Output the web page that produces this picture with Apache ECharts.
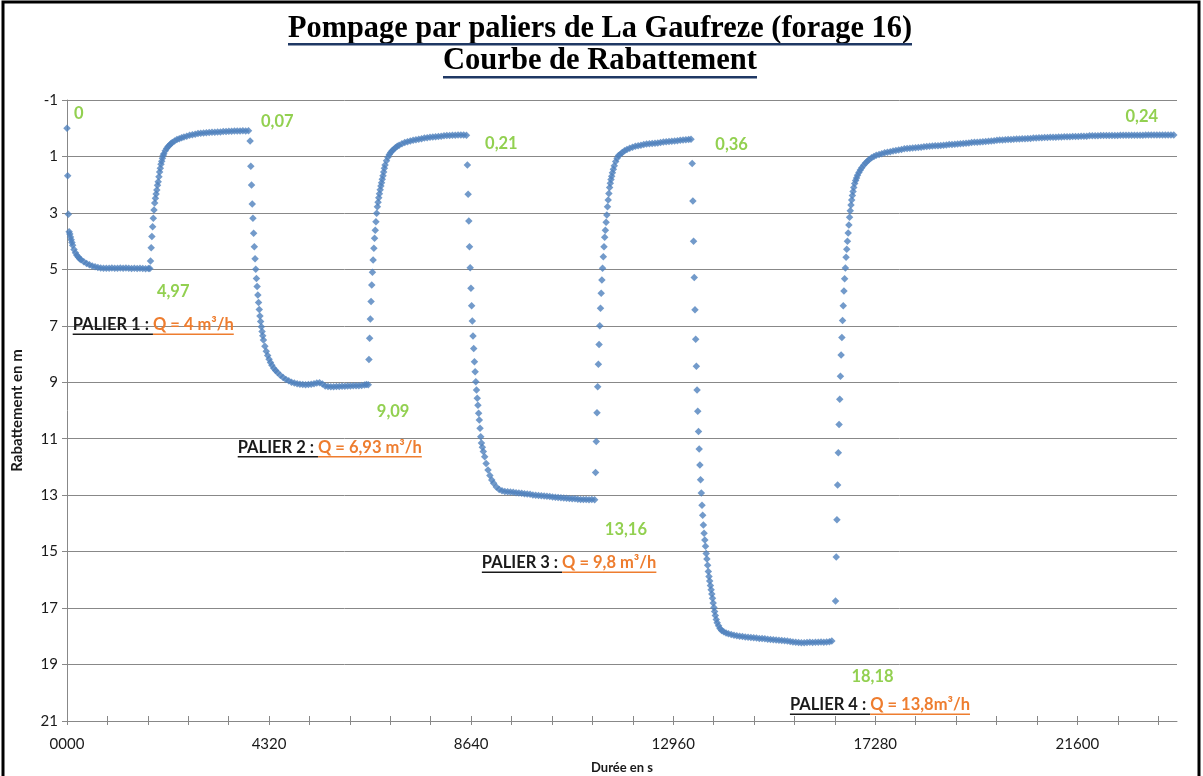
<!DOCTYPE html>
<html><head><meta charset="utf-8">
<script src="https://cdn.jsdelivr.net/npm/echarts@6/dist/echarts.min.js"></script>
<style>html,body{margin:0;padding:0;background:#fff}#c{width:1203px;height:776px}</style>
</head><body><div id="c"></div><script>
// ---------- data (time in s, drawdown "rabattement" in m) ----------
const p1Time = [0,15,30,45,60,75,90,105,120,150,180,210,240,270,300,360,420,480,540,600,660,720,780,840,900,960,1020,1080,1140,1200,1260,1320,1380,1440,1500,1560,1620,1680,1740,1770];
const p1Draw = [0,1.68,3.05,3.67,3.75,3.85,3.95,4.05,4.15,4.30,4.41,4.50,4.56,4.62,4.66,4.73,4.79,4.84,4.88,4.91,4.93,4.95,4.96,4.96,4.96,4.95,4.96,4.96,4.95,4.96,4.95,4.96,4.97,4.96,4.97,4.96,4.97,4.98,4.97,4.97];

const r1Time = [1785,1800,1815,1830,1845,1860,1875,1890,1905,1920,1935,1950,1965,1980,1995,2010,2025,2040,2055,2070,2100,2130,2160,2190,2220,2250,2300,2350,2400,2450,2500,2560,2620,2680,2740,2800,2860,2920,2980,3040,3100,3160,3220,3280,3340,3400,3460,3520,3580,3640,3700,3760,3820,3880];
const r1Draw = [4.70,4.23,3.84,3.49,3.19,2.90,2.65,2.48,2.33,2.19,2.02,1.90,1.72,1.55,1.42,1.28,1.17,1.06,0.97,0.90,0.80,0.72,0.65,0.60,0.55,0.51,0.45,0.40,0.37,0.34,0.31,0.28,0.25,0.23,0.21,0.19,0.18,0.17,0.16,0.15,0.14,0.14,0.13,0.13,0.12,0.12,0.11,0.11,0.10,0.10,0.10,0.09,0.10,0.09];

const p2Time = [3915,3930,3945,3960,3975,3990,4005,4020,4035,4050,4065,4080,4095,4110,4125,4140,4155,4170,4185,4200,4230,4260,4290,4320,4350,4380,4420,4460,4500,4560,4620,4680,4740,4800,4860,4920,4980,5040,5100,5160,5220,5280,5340,5400,5460,5520,5580,5640,5700,5760,5820,5880,5940,6000,6060,6120,6180,6240,6300,6360,6400,6440];
const p2Draw = [0.45,1.35,2.01,2.68,3.19,3.72,4.20,4.62,5.00,5.32,5.61,5.91,6.17,6.42,6.65,6.85,7.03,7.20,7.35,7.50,7.72,7.90,8.05,8.18,8.30,8.40,8.50,8.58,8.65,8.75,8.83,8.90,8.95,9.00,9.03,9.05,9.07,9.08,9.09,9.08,9.07,9.05,9.03,9.02,9.06,9.13,9.15,9.16,9.16,9.15,9.15,9.14,9.14,9.13,9.13,9.12,9.12,9.12,9.11,9.10,9.08,9.09];

const r2Time = [6455,6470,6485,6500,6515,6530,6545,6560,6575,6590,6605,6620,6635,6650,6665,6680,6695,6710,6725,6740,6755,6770,6785,6800,6830,6860,6890,6920,6950,6980,7020,7060,7100,7160,7220,7280,7340,7400,7460,7520,7580,7640,7700,7760,7820,7880,7940,8000,8060,8120,8180,8240,8300,8360,8420,8480,8540];
const r2Draw = [8.19,7.44,6.76,6.14,5.55,5.10,4.67,4.25,3.90,3.61,3.31,3.01,2.78,2.62,2.46,2.32,2.18,2.05,1.93,1.81,1.68,1.55,1.42,1.30,1.15,1.03,0.93,0.86,0.80,0.75,0.69,0.64,0.60,0.55,0.51,0.48,0.45,0.43,0.41,0.39,0.37,0.35,0.34,0.32,0.31,0.30,0.29,0.28,0.27,0.26,0.26,0.25,0.25,0.24,0.24,0.24,0.25];

const p3Time = [8560,8575,8590,8605,8620,8635,8650,8665,8680,8695,8710,8725,8740,8755,8770,8785,8800,8815,8830,8845,8860,8880,8900,8930,8960,9000,9040,9080,9120,9180,9240,9300,9360,9420,9480,9540,9600,9660,9720,9780,9840,9900,9960,10020,10080,10140,10200,10260,10320,10380,10440,10500,10560,10620,10680,10740,10800,10860,10920,10980,11040,11100,11160,11220,11280];
const p3Draw = [1.30,2.34,3.29,4.20,4.94,5.67,6.29,6.83,7.36,7.80,8.27,8.63,8.98,9.27,9.57,9.81,10.10,10.34,10.63,10.93,11.15,11.30,11.45,11.64,11.88,12.11,12.30,12.46,12.58,12.71,12.80,12.84,12.87,12.88,12.89,12.90,12.91,12.92,12.93,12.95,12.96,12.97,12.99,13.00,13.01,13.02,13.03,13.04,13.05,13.06,13.07,13.08,13.09,13.10,13.11,13.12,13.13,13.13,13.14,13.15,13.15,13.15,13.16,13.15,13.16];

const r3Time = [11300,11315,11330,11345,11360,11375,11390,11405,11420,11435,11450,11465,11480,11495,11510,11525,11540,11555,11570,11585,11600,11615,11630,11645,11660,11680,11700,11730,11760,11790,11830,11870,11920,11970,12030,12090,12150,12210,12270,12330,12390,12450,12510,12570,12630,12690,12750,12810,12870,12930,12990,13050,13110,13170,13230,13290,13340];
const r3Draw = [12.20,11.10,10.08,9.16,8.36,7.66,7.00,6.38,5.85,5.38,4.96,4.55,4.20,3.86,3.61,3.33,3.07,2.78,2.54,2.31,2.10,1.95,1.82,1.70,1.58,1.45,1.33,1.18,1.06,0.97,0.92,0.86,0.80,0.75,0.71,0.67,0.64,0.62,0.60,0.58,0.56,0.55,0.54,0.53,0.52,0.51,0.49,0.48,0.47,0.46,0.45,0.44,0.43,0.42,0.41,0.40,0.39];

const p4Time = [13365,13380,13395,13410,13425,13440,13455,13470,13485,13500,13515,13530,13545,13560,13575,13590,13605,13620,13635,13650,13665,13680,13695,13710,13725,13740,13755,13770,13785,13800,13815,13830,13845,13860,13880,13900,13930,13960,13995,14040,14090,14140,14200,14260,14320,14380,14440,14500,14560,14620,14680,14740,14800,14860,14920,14980,15040,15100,15160,15220,15280,15340,15400,15460,15520,15580,15640,15700,15760,15820,15880,15940,16000,16060,16120,16180,16240,16300,16350];
const p4Draw = [1.25,2.58,4.00,5.29,6.43,7.48,8.43,9.27,10.03,10.74,11.36,11.93,12.45,12.92,13.36,13.71,14.06,14.35,14.59,14.81,15.07,15.26,15.48,15.70,15.88,16.04,16.20,16.35,16.50,16.65,16.82,16.98,17.12,17.26,17.40,17.52,17.63,17.72,17.79,17.84,17.88,17.91,17.94,17.96,17.98,18.00,18.01,18.02,18.03,18.04,18.05,18.06,18.08,18.08,18.09,18.10,18.11,18.12,18.13,18.14,18.15,18.16,18.17,18.18,18.20,18.21,18.22,18.23,18.23,18.22,18.21,18.22,18.21,18.21,18.20,18.21,18.20,18.19,18.17];

const r4Time = [16430,16445,16460,16475,16490,16505,16520,16535,16550,16565,16580,16595,16610,16625,16640,16655,16670,16685,16700,16715,16730,16745,16760,16775,16790,16805,16820,16840,16860,16880,16900,16930,16960,16990,17030,17070,17110,17150,17200,17250,17300,17360,17420,17480,17540,17600,17660,17720,17780,17840,17900,17960,18020,18080,
  18140,18200,18260,18320,18380,18440,18500,18560,18620,18680,
  18740,18800,18860,18920,18980,19040,19100,19160,19220,19280,
  19340,19400,19460,19520,19580,19640,19700,19760,19820,19880,
  19940,20000,20060,20120,20180,20240,20300,20360,20420,20480,
  20540,20600,20660,20720,20780,20840,20900,20960,21020,21080,
  21140,21200,21260,21320,21380,21440,21500,21560,21620,21680,
  21740,21800,21860,21920,21980,22040,22100,22160,22220,22280,
  22340,22400,22460,22520,22580,22640,22700,22760,22820,22880,
  22940,23000,23060,23120,23180,23240,23300,23360,23420,23480,
  23540,23600,23660];
const r4Draw = [16.75,15.19,13.87,12.64,11.50,10.50,9.60,8.79,8.03,7.41,6.81,6.29,5.77,5.33,4.95,4.57,4.29,4.00,3.71,3.43,3.15,2.92,2.72,2.54,2.38,2.24,2.10,1.96,1.85,1.76,1.67,1.57,1.48,1.40,1.31,1.23,1.17,1.11,1.05,1.00,0.96,0.93,0.90,0.87,0.85,0.83,0.81,0.79,0.77,0.75,0.73,0.72,0.71,0.70,
  0.69,0.68,0.67,0.66,0.65,0.64,0.63,0.62,0.62,0.61,
  0.60,0.59,0.58,0.58,0.57,0.56,0.55,0.54,0.53,0.52,
  0.51,0.50,0.50,0.49,0.48,0.47,0.46,0.45,0.44,0.43,
  0.42,0.42,0.41,0.40,0.40,0.39,0.38,0.38,0.37,0.37,
  0.36,0.36,0.35,0.35,0.34,0.34,0.33,0.33,0.32,0.32,
  0.32,0.31,0.31,0.30,0.30,0.30,0.29,0.29,0.29,0.28,
  0.28,0.28,0.27,0.27,0.27,0.27,0.26,0.26,0.26,0.26,
  0.26,0.26,0.26,0.25,0.25,0.25,0.25,0.25,0.25,0.25,
  0.25,0.25,0.24,0.24,0.24,0.24,0.24,0.24,0.24,0.24,
  0.24,0.24,0.24];

// axis ticks / labels
const yMin = -1, yMax = 21, yStep = 2;
const xMax = 23730;
const xLabelValues = [0, 4320, 8640, 12960, 17280, 21600];
const xLabelText = ['0000', '4320', '8640', '12960', '17280', '21600'];
const xTickValues = [0,864,1728,2592,3456,4320,5184,6048,6912,7776,8640,9504,10368,11232,12096,12960,13824,14688,15552,16416,17280,18144,19008,19872,20736,21600,22464,23328];

// annotations
const valueLabelText = ['0', '0,07', '4,97', '9,09', '0,21', '13,16', '0,36', '18,18', '0,24'];
const valueLabelAt = [[250,-0.50],[4495,-0.24],[2271,5.78],[6972,10.04],[9286,0.54],[11948,14.23],[14209,0.58],[17220,19.44],[22977,-0.41]];
const palierNames = ['PALIER 1 : ', 'PALIER 2 : ', 'PALIER 3 : ', 'PALIER 4 : '];
const palierFlows = ['Q = 4 m³/h', 'Q = 6,93 m³/h', 'Q = 9,8 m³/h', 'Q = 13,8m³/h'];
const palierAt = [[122,6.97],[3650,11.31],[8869,15.40],[15455,20.43]];

const titleLine1 = 'Pompage par paliers de La Gaufreze (forage 16)';
const titleLine2 = 'Courbe de Rabattement';

// ---------- chart ----------
const BLUE = '#4F81BD', GREEN = '#92D050', ORANGE = '#EE7D2F', GRID = '#888888';
const mctx = document.createElement('canvas').getContext('2d');
function tw(font, s) { mctx.font = font; return mctx.measureText(s).width; }
const zip = (t, s) => t.map((x, i) => [x, s[i]]);

const phases = [[p1Time,p1Draw],[r1Time,r1Draw],[p2Time,p2Draw],[r2Time,r2Draw],[p3Time,p3Draw],[r3Time,r3Draw],[p4Time,p4Draw],[r4Time,r4Draw]];
const scatterSeries = phases.map(ph => ({
  type: 'scatter', data: zip(ph[0], ph[1]), symbol: 'diamond', symbolSize: 7.5,
  itemStyle: { color: BLUE }, silent: true, z: 3
}));

const TSIZE = 32, TFAM = '"Liberation Serif"';
const TFONT = 'bold ' + TSIZE + 'px ' + TFAM;
const tw1 = tw(TFONT, titleLine1), tw2 = tw(TFONT, titleLine2);
const sx1 = 624 / tw1, sx2 = 314 / tw2;

const VSIZE = 16.5, PSIZE = 16.5;
const PFONT = 'bold ' + PSIZE + 'px Lato';

const chart = echarts.init(document.getElementById('c'), null, { renderer: 'canvas' });

chart.setOption({
  animation: false,
  backgroundColor: '#fff',
  grid: { left: 67, right: 26, top: 100, bottom: 55, containLabel: false, outerBoundsMode: 'none' },
  xAxis: [{
    type: 'value', min: 0, max: xMax,
    name: 'Durée en s', nameLocation: 'middle', nameGap: 40,
    nameTextStyle: { fontFamily: 'Lato', fontWeight: 'bold', fontSize: 13, color: '#1a1a1a' },
    axisLine: { show: true, onZero: false, lineStyle: { color: GRID, width: 1 } },
    axisTick: { show: true, inside: false, length: 4, customValues: xTickValues, lineStyle: { color: GRID } },
    axisLabel: { customValues: xLabelValues, margin: 16, fontFamily: 'Lato', fontSize: 15, color: '#1a1a1a',
      formatter: v => xLabelText[xLabelValues.indexOf(v)] },
    splitLine: { show: false }
  }, {
    type: 'value', min: 0, max: xMax, position: 'bottom',
    axisLine: { show: false, onZero: false }, axisLabel: { show: false }, splitLine: { show: false },
    axisTick: { show: true, inside: true, length: 5, customValues: xTickValues, lineStyle: { color: GRID } }
  }],
  yAxis: {
    type: 'value', inverse: true, min: yMin, max: yMax, interval: yStep,
    name: 'Rabattement en m', nameLocation: 'middle', nameGap: 42, nameRotate: 90,
    nameTextStyle: { fontFamily: 'Lato', fontWeight: 'bold', fontSize: 15, color: '#1a1a1a' },
    axisLine: { show: true, onZero: false, lineStyle: { color: GRID, width: 1 } },
    axisTick: { show: true, length: 5, lineStyle: { color: GRID } },
    axisLabel: { margin: 9, fontFamily: 'Lato', fontSize: 15, color: '#1a1a1a' },
    splitLine: { show: true, lineStyle: { color: GRID, width: 1 } }
  },
  series: scatterSeries.concat([{
    type: 'custom', silent: true, z: 10, clip: false,
    data: valueLabelAt.map((p, i) => [p[0], p[1], i]),
    renderItem: (params, api) => {
      const p = api.coord([api.value(0), api.value(1)]);
      return { type: 'text', x: p[0], y: p[1],
        style: { text: valueLabelText[api.value(2)], fontSize: VSIZE, fontFamily: 'Lato', fontWeight: 'bold', fill: GREEN, align: 'center', verticalAlign: 'middle' } };
    }
  }, {
    type: 'custom', silent: true, z: 10, clip: false,
    data: palierAt.map((p, i) => [p[0], p[1], i]),
    renderItem: (params, api) => {
      const i = api.value(2);
      const p = api.coord([api.value(0), api.value(1)]);
      const w1 = tw(PFONT, palierNames[i]), w2 = tw(PFONT, palierFlows[i]);
      const st = { fontSize: PSIZE, fontFamily: 'Lato', fontWeight: 'bold', align: 'left', verticalAlign: 'middle' };
      return { type: 'group', children: [
        { type: 'text', x: p[0], y: p[1], style: Object.assign({ text: palierNames[i], fill: '#1a1a1a' }, st) },
        { type: 'text', x: p[0] + w1, y: p[1], style: Object.assign({ text: palierFlows[i], fill: ORANGE }, st) },
        { type: 'rect', shape: { x: p[0], y: p[1] + 8.5, width: w1, height: 1.6 }, style: { fill: '#1a1a1a' } },
        { type: 'rect', shape: { x: p[0] + w1, y: p[1] + 8.5, width: w2, height: 1.6 }, style: { fill: ORANGE } }
      ] };
    }
  }]),
  graphic: [
    { type: 'rect', shape: { x: 3, y: 2, width: 1196, height: 800 }, style: { fill: 'none', stroke: '#000', lineWidth: 3 }, z: 100 },
    { type: 'text', x: 600 - 312, y: 29, scaleX: sx1,
      style: { text: titleLine1, fontSize: TSIZE, fontFamily: 'Liberation Serif', fontWeight: 'bold', fill: '#000', align: 'left', verticalAlign: 'middle' }, z: 100 },
    { type: 'rect', shape: { x: 600 - 312, y: 43, width: 624, height: 2.6 }, style: { fill: '#1F3864' }, z: 100 },
    { type: 'text', x: 600 - 157, y: 61, scaleX: sx2,
      style: { text: titleLine2, fontSize: TSIZE, fontFamily: 'Liberation Serif', fontWeight: 'bold', fill: '#000', align: 'left', verticalAlign: 'middle' }, z: 100 },
    { type: 'rect', shape: { x: 600 - 157, y: 76, width: 314, height: 2.6 }, style: { fill: '#1F3864' }, z: 100 }
  ]
});
</script></body></html>
